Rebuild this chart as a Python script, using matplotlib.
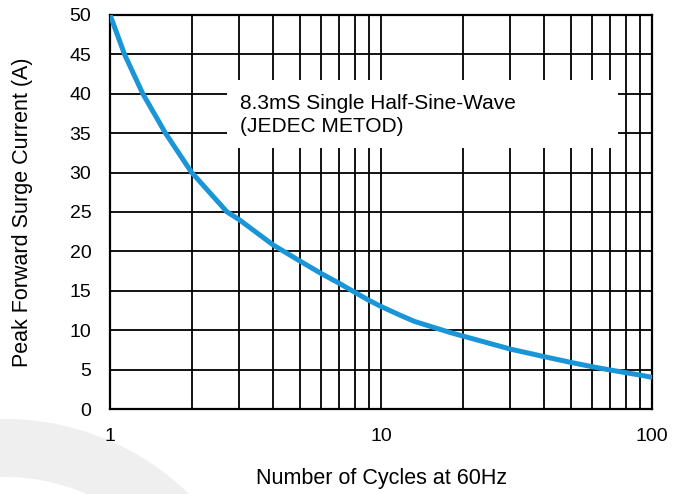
import numpy as np
import matplotlib
matplotlib.use('Agg')
import matplotlib.pyplot as plt
from matplotlib.patches import Wedge, Rectangle
from matplotlib.transforms import IdentityTransform

plt.rcParams['font.family'] = ['Liberation Sans', 'DejaVu Sans']

# surge current curve
cycles = [1, 1.13, 1.32, 1.6, 2, 2.15, 2.7, 3, 4, 5, 6, 7, 8, 9, 10,
          11.75, 13.3, 18, 20, 30, 40, 50, 60, 70, 80, 90, 100]
current = [50, 45, 40, 35, 30, 28.8, 25, 24.0, 20.8, 18.8, 17.2, 15.95, 14.8, 13.8, 13.0,
           11.9, 11.1, 9.7, 9.26, 7.6, 6.64, 5.92, 5.37, 4.95, 4.61, 4.31, 4.02]

y_ticks = list(range(0, 55, 5))
x_ticks = [1, 10, 100]
x_labels = ['1', '10', '100']
grid_x = [2, 3, 4, 5, 6, 7, 8, 9, 10, 20, 30, 40, 50, 60, 70, 80, 90]

fig = plt.figure(figsize=(6.88, 4.94), dpi=100)

# faint watermark arc in the lower left corner
wm = Wedge((5, -188), 263, 35, 120, width=58, transform=IdentityTransform(),
           facecolor='#efefef', edgecolor='none', zorder=0)
fig.add_artist(wm)

ax = fig.add_axes([0.160, 0.172, 0.788, 0.798])
ax.set_xscale('log')
ax.set_xlim(1, 100)
ax.set_ylim(0, 50)

for gx in grid_x:
    ax.axvline(gx, color='black', lw=1.3, zorder=1)
for gy in y_ticks[1:-1]:
    ax.axhline(gy, color='black', lw=1.3, zorder=1)

ax.plot(cycles, current, color='#1a96d8', lw=3.6, solid_capstyle='butt',
        solid_joinstyle='round', zorder=4)

# white label box that blanks the grid behind the note
ax.add_patch(Rectangle((0.216, 0.662), 0.721, 0.173, transform=ax.transAxes,
                       facecolor='white', edgecolor='none', zorder=2))
ax.text(0.24, 0.745, '8.3mS Single Half-Sine-Wave\n(JEDEC METOD)', fontsize=15,
        transform=ax.transAxes, va='center', ha='left', linespacing=1.25, zorder=3)

ax.set_yticks(y_ticks)
ax.set_xticks(x_ticks)
ax.set_xticklabels(x_labels)
ax.xaxis.set_minor_locator(matplotlib.ticker.NullLocator())
ax.tick_params(length=0, labelsize=14)
ax.tick_params(axis='y', pad=13.5)
ax.tick_params(axis='x', pad=14)
for s in ax.spines.values():
    s.set_linewidth(1.6)

ax.set_ylabel('Peak Forward Surge Current (A)', fontsize=15.5, labelpad=26)
ax.set_xlabel('Number of Cycles at 60Hz', fontsize=15.5, labelpad=16)

fig.savefig('out.png', dpi=100)
